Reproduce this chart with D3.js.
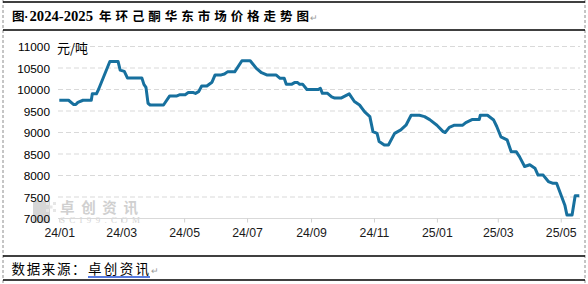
<!DOCTYPE html>
<html><head><meta charset="utf-8">
<script src="https://cdn.jsdelivr.net/npm/d3@7"></script>
<style>
html,body{margin:0;padding:0;background:#fff;}
svg{display:block;}
</style>
</head><body>
<svg id="c" width="588" height="284"></svg>
<script>
const dates = ["2024-01-01","2024-01-10","2024-01-15","2024-01-17","2024-01-19","2024-01-24","2024-02-01","2024-02-02","2024-02-06","2024-02-08",
"2024-02-19","2024-02-27","2024-02-29","2024-03-04","2024-03-07","2024-03-21","2024-03-23","2024-03-25","2024-03-27","2024-03-29",
"2024-04-11","2024-04-17","2024-04-24","2024-04-27","2024-05-02","2024-05-05","2024-05-10","2024-05-12","2024-05-15","2024-05-18",
"2024-05-23","2024-05-28","2024-05-31","2024-06-06","2024-06-09","2024-06-12","2024-06-19","2024-06-26","2024-07-04","2024-07-10",
"2024-07-15","2024-07-20","2024-07-29","2024-08-02","2024-08-06","2024-08-08","2024-08-13","2024-08-16","2024-08-19","2024-08-21",
"2024-08-24","2024-08-28","2024-09-08","2024-09-10","2024-09-12","2024-09-17","2024-09-21","2024-09-24","2024-09-30","2024-10-08",
"2024-10-13","2024-10-18","2024-10-23","2024-10-28","2024-10-31","2024-11-04","2024-11-06","2024-11-11","2024-11-15","2024-11-21",
"2024-11-27","2024-12-02","2024-12-07","2024-12-15","2024-12-20","2024-12-25","2025-01-01","2025-01-07","2025-01-09","2025-01-13",
"2025-01-18","2025-01-26","2025-01-29","2025-02-04","2025-02-11","2025-02-12","2025-02-19","2025-02-25","2025-02-28","2025-03-04",
"2025-03-10","2025-03-14","2025-03-19","2025-03-22","2025-03-27","2025-04-01","2025-04-06","2025-04-09","2025-04-14","2025-04-19",
"2025-04-23","2025-04-27","2025-05-02","2025-05-05","2025-05-07","2025-05-12","2025-05-15","2025-05-19"];
const prices = [9750,9750,9650,9650,9700,9750,9750,9900,9900,10000,
10650,10650,10450,10420,10270,10270,10120,10050,9680,9640,
9640,9850,9850,9880,9880,9930,9930,9910,9950,10080,
10080,10170,10340,10340,10360,10410,10410,10670,10670,10490,
10390,10340,10340,10260,10260,10120,10120,10160,10160,10120,
10120,10000,10000,10030,9910,9910,9830,9800,9800,9900,
9720,9640,9480,9370,9020,8980,8790,8710,8710,8980,
9060,9170,9400,9400,9370,9300,9170,9020,9000,9120,
9170,9170,9230,9300,9300,9400,9400,9290,9140,8900,
8830,8550,8550,8440,8210,8250,8170,8010,8010,7860,
7820,7820,7500,7310,7080,7080,7530,7530];
const yTicks = [7000,7500,8000,8500,9000,9500,10000,10500,11000];
const xDomain = ["2024-01-01","2025-05-19"];
const title = ["图","·","2024-2025","年环己酮华东市场价格走势图"];
const unitLabel = "元/吨";
const sourceLabel = "数据来源：";
const sourceName = "卓创资讯";

const parse = d3.timeParse("%Y-%m-%d");
const data = dates.map((d,i)=>({date:parse(d), v:prices[i]}));
const svg = d3.select("#c");
const cjk = "'Noto Sans CJK SC','Noto Sans',sans-serif";

// page frame
svg.append("line").attr("x1",3).attr("x2",3).attr("y1",0).attr("y2",284)
  .attr("stroke","#8c8c8c").attr("stroke-width",1).attr("stroke-dasharray","3,2");
svg.append("line").attr("x1",585).attr("x2",585).attr("y1",0).attr("y2",284)
  .attr("stroke","#8c8c8c").attr("stroke-width",1).attr("stroke-dasharray","3,2");
[2,30,256,280].forEach(y=>{
  svg.append("line").attr("x1",3).attr("x2",585).attr("y1",y).attr("y2",y)
    .attr("stroke","#000").attr("stroke-width",1.3);
});

// title
const tg = svg.append("g").attr("font-family",cjk).attr("font-weight","bold").attr("font-size",12.5).attr("fill","#000");
tg.append("text").attr("x",12).attr("y",21).text(title[0]);
tg.append("text").attr("x",24.6).attr("y",21).attr("font-family","'Liberation Sans',sans-serif").attr("font-size",12).text(title[1]);
tg.append("text").attr("x",29.5).attr("y",21).attr("textLength",63.5).attr("lengthAdjust","spacingAndGlyphs")
  .attr("font-family","'Liberation Serif','DejaVu Serif',serif").attr("font-size",15).text(title[2]);
tg.append("text").attr("x",99).attr("y",21).attr("textLength",210).text(title[3]);
svg.append("text").attr("x",309.5).attr("y",21).attr("font-size",9).attr("fill","#999").attr("font-family",cjk).text("↵");

// scales
const x = d3.scaleTime().domain(xDomain.map(parse)).range([59.3,579.3]);
const y = d3.scaleLinear().domain([7000,11000]).range([218.5,46.5]);

// gridlines
svg.append("g").selectAll("line").data(yTicks.filter(t=>t>7000)).join("line")
  .attr("x1",58).attr("x2",580).attr("y1",d=>y(d)).attr("y2",d=>y(d))
  .attr("stroke","#d9d9d9").attr("stroke-width",1).attr("stroke-dasharray","5,3");

// watermark
const wm = svg.append("g");
wm.append("rect").attr("x",33).attr("y",201).attr("width",17).attr("height",22).attr("fill","#d6d6d6");
for(let i=0;i<3;i++)for(let j=0;j<3;j++){ if((i+j)%2===0) wm.append("rect").attr("x",46+i*3.5).attr("y",202+j*3.5).attr("width",3).attr("height",3).attr("fill","#e6e6e6");}
wm.append("text").attr("x",60).attr("y",212.5).attr("font-family",cjk).attr("font-weight","bold").attr("font-size",14.5)
  .attr("fill","#d0d0d0").attr("textLength",78).text("卓创资讯");
wm.append("text").attr("x",60).attr("y",223.2).attr("font-family","'Liberation Serif',serif").attr("font-size",9)
  .attr("fill","#d4d4d4").attr("textLength",80).text("SCI99.COM");

// y axis
const ya = svg.append("g").attr("transform","translate(50,0)")
  .call(d3.axisLeft(y).tickValues(yTicks).tickSize(0).tickPadding(0).tickFormat(d3.format("d")));
ya.select(".domain").remove();
ya.selectAll("text").attr("font-family","'Liberation Sans',Arial,sans-serif").attr("font-size",11.8).attr("fill","#000").attr("dy","0.36em");

// x axis
const xa = svg.append("g").attr("transform","translate(0,218.5)")
  .call(d3.axisBottom(x).ticks(d3.timeMonth.every(2)).tickSize(4).tickPadding(5.5).tickFormat(d3.timeFormat("%y/%m")));
xa.select(".domain").attr("d","M58,0H580").attr("stroke","#d9d9d9");
xa.selectAll(".tick line").attr("stroke","#d0d0d0");
xa.selectAll("text").attr("font-family","'Liberation Sans',Arial,sans-serif").attr("font-size",12.3).attr("fill","#1a1a1a");

// unit
svg.append("text").attr("x",57).attr("y",53).attr("font-family",cjk).attr("font-size",13).attr("fill","#000").text(unitLabel);

// line
svg.append("path").datum(data)
  .attr("d",d3.line().x(d=>x(d.date)).y(d=>y(d.v)))
  .attr("fill","none").attr("stroke","#17709e").attr("stroke-width",3)
  .attr("stroke-linejoin","round").attr("stroke-linecap","butt");

// footer
const fg = svg.append("g").attr("font-family",cjk).attr("font-size",13.5).attr("fill","#000");
fg.append("text").attr("x",11.5).attr("y",274).attr("textLength",74).text(sourceLabel);
fg.append("text").attr("x",88).attr("y",274).attr("textLength",61).text(sourceName);
svg.append("line").attr("x1",88).attr("x2",150).attr("y1",277).attr("y2",277).attr("stroke","#1f4fd6").attr("stroke-width",1.3);
svg.append("text").attr("x",151).attr("y",274).attr("font-size",9).attr("fill","#999").attr("font-family",cjk).text("↵");
</script>
</body></html>
